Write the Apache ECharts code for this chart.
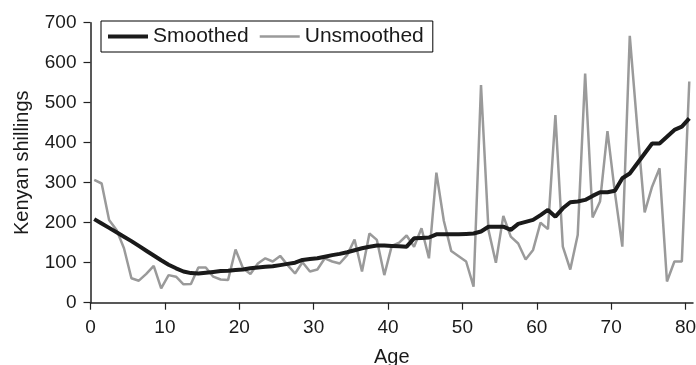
<!DOCTYPE html>
<html>
<head>
<meta charset="utf-8">
<script src="https://cdn.jsdelivr.net/npm/echarts@6/dist/echarts.min.js"></script>
<style>html,body{margin:0;padding:0;background:#fff}#c{width:696px;height:365px}</style>
</head>
<body>
<div id="c"></div>
<script>
const ages = [];
for (let i = 0; i <= 80; i++) ages.push(i + 0.5);
const unsmoothed = [307,298,207,182,136,61,55,72,92,36,
  69,65,46,47,88,88,65,58,57,133,
  86,72,98,111,103,117,94,73,101,78,
  83,111,103,98,119,158,78,173,157,69,
  142,150,168,140,186,111,325,205,129,116,
  103,40,544,182,100,217,165,148,108,132,
  200,184,469,140,83,169,573,213,253,429,
  275,140,667,440,226,290,336,53,103,103,553];
const smoothed = [209,198,187,176,165,154,142,130,118,106,
  95,86,78,74,73,75,77,79,80,82,
  83,86,88,90,91,94,97,100,107,109,
  111,115,119,122,126,131,136,140,143,143,
  142,141,140,161,162,163,171,171,171,171,
  172,173,178,190,190,190,182,197,202,207,
  219,232,215,236,251,253,257,267,276,276,
  280,311,323,348,373,398,398,415,432,440,461];
const xTicks = [0,10,20,30,40,50,60,70,80];
const yTicks = [0,100,200,300,400,500,600,700];

const font = 'Liberation Sans, Arial, sans-serif';
const chart = echarts.init(document.getElementById('c'), null, {renderer: 'canvas'});
chart.setOption({
  animation: false,
  grid: {left: 90.5, right: 3, top: 22.7, bottom: 62.3, containLabel: false, outerBoundsMode: 'none'},
  legend: {
    left: 101, top: 21,
    orient: 'horizontal',
    padding: [5, 9, 5, 7],
    borderColor: '#000', borderWidth: 1,
    itemWidth: 40, itemHeight: 14, itemGap: 11,
    symbolKeepAspect: true,
    textStyle: {fontFamily: font, fontSize: 21, color: '#1a1a1a'},
    data: [
      {name: 'Smoothed', icon: 'path://M0,0H40V4H0Z'},
      {name: 'Unsmoothed', icon: 'path://M0,0H40V2.5H0Z'}
    ]
  },
  xAxis: {
    type: 'value', min: 0, max: 81, interval: 10,
    name: 'Age', nameLocation: 'middle', nameGap: 45,
    nameTextStyle: {fontFamily: font, fontSize: 20, color: '#1a1a1a'},
    axisLine: {lineStyle: {color: '#222', width: 1.5}},
    axisTick: {show: true, inside: false, length: 7, lineStyle: {color: '#222', width: 1.2}, customValues: xTicks},
    axisLabel: {fontFamily: font, fontSize: 19, color: '#1a1a1a', margin: 16, customValues: xTicks},
    splitLine: {show: false}
  },
  yAxis: {
    type: 'value', min: 0, max: 700, interval: 100,
    name: 'Kenyan shillings', nameLocation: 'middle', nameGap: 58,
    nameTextStyle: {fontFamily: font, fontSize: 20, color: '#1a1a1a'},
    axisLine: {show: true, lineStyle: {color: '#222', width: 1.5}},
    axisTick: {show: true, inside: false, length: 7, lineStyle: {color: '#222', width: 1.2}},
    axisLabel: {fontFamily: font, fontSize: 19, color: '#1a1a1a', margin: 14,
      formatter: v => yTicks.includes(v) ? String(v) : ''},
    splitLine: {show: false}
  },
  series: [
    {
      name: 'Smoothed', type: 'line', symbol: 'none', z: 3,
      data: ages.map((a, i) => [a, smoothed[i]]),
      lineStyle: {color: '#1a1a1a', width: 4},
      itemStyle: {color: '#1a1a1a'}
    },
    {
      name: 'Unsmoothed', type: 'line', symbol: 'none', z: 2,
      data: ages.map((a, i) => [a, unsmoothed[i]]),
      lineStyle: {color: '#9a9a9a', width: 2.5},
      itemStyle: {color: '#9a9a9a'}
    }
  ]
});
</script>
</body>
</html>
